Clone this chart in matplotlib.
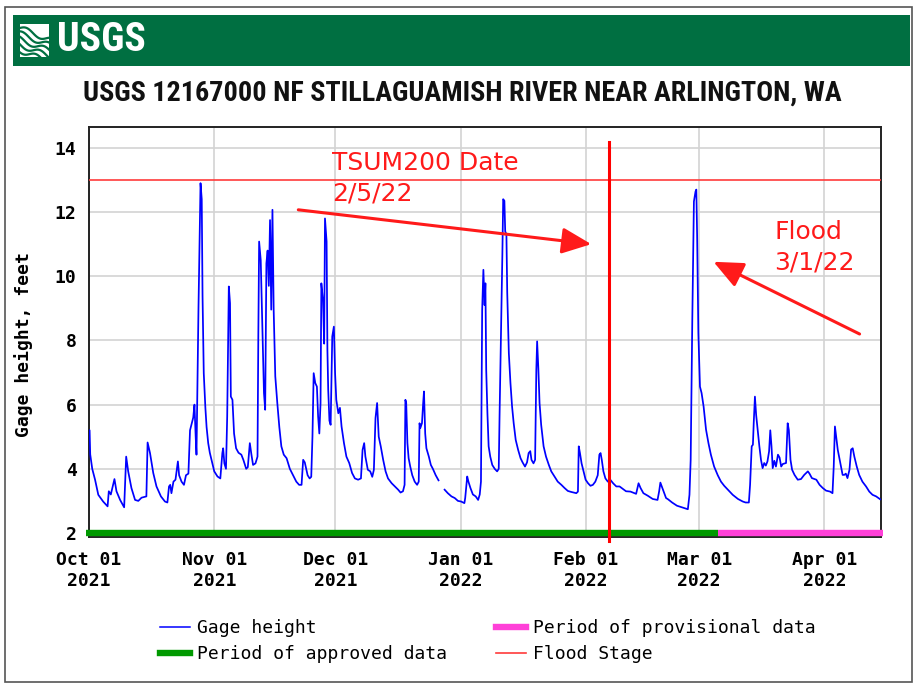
"""USGS gage height chart, NF Stillaguamish River near Arlington, Oct 2021 - Apr 2022."""
import os

import numpy as np
import matplotlib

matplotlib.use("Agg")
import matplotlib.pyplot as plt
import matplotlib.dates as mdates
from matplotlib import font_manager as fm
from matplotlib.lines import Line2D
from matplotlib.patches import Rectangle

OUT = "out.png"
W, H = 914, 685

START = np.datetime64("2021-10-01T00:00")
END_DAY = 196.0

# days since Oct 1 2021, gage height (ft)
DAYS = [
    0.0, 0.15, 0.3, 0.8, 1.5, 2.3, 3.5, 4.6, 4.9, 5.4, 6.3, 6.8, 7.7, 8.7, 9.2, 9.7,
    10.5, 11.4, 12.2, 13.0, 14.2, 14.5, 15.1, 15.9, 16.7, 17.8, 18.8, 19.4, 19.8, 20.1,
    20.4, 20.9, 21.4, 22.0, 22.3, 22.9, 23.5, 24.0, 24.6, 25.0, 25.4, 25.8, 26.1, 26.4,
    26.6, 27.1, 27.6, 27.9, 28.1, 28.4, 28.8, 29.1, 29.5, 29.9, 30.4, 31.0, 31.8, 32.5,
    33.0, 33.2, 33.5, 33.9, 34.2, 34.6, 34.9, 35.1, 35.5, 35.9, 36.4, 37.0, 37.7, 38.2,
    38.9, 39.3, 39.8, 40.2, 40.6, 41.2, 41.7, 41.9, 42.1, 42.5, 42.9, 43.3, 43.6, 43.9,
    44.2, 44.5, 44.8, 45.1, 45.4, 45.7, 46.1, 46.6, 47.1, 47.6, 48.2, 48.9, 49.7, 50.5,
    51.3, 52.0, 52.6, 53.0, 53.4, 54.1, 54.6, 55.0, 55.3, 55.6, 56.0, 56.4, 56.7, 57.0,
    57.3, 57.5, 57.9, 58.2, 58.4, 58.8, 59.0, 59.2, 59.5, 59.8, 60.2, 60.6, 60.9, 61.2,
    61.7, 62.1, 62.5, 63.1, 63.7, 64.4, 65.1, 65.8, 66.6, 67.3, 67.7, 68.1, 68.4, 69.0,
    69.6, 70.1, 70.5, 70.9, 71.3, 71.7, 72.2, 72.8, 73.4, 74.0, 74.9, 75.7, 76.5, 77.1,
    77.7, 78.1, 78.3, 78.5, 78.8, 79.1, 79.5, 80.0, 80.6, 81.2, 81.6, 81.8, 82.0, 82.4,
    82.7, 82.9, 83.2, 83.5, 84.1, 84.6, 85.1, 85.8, 86.5, 87.2, 88.0, 88.8, 89.7, 90.5,
    91.3, 92.1, 92.9, 93.1, 93.6, 93.9, 94.4, 95.0, 95.7, 96.3, 96.7, 97.0, 97.3, 97.6,
    97.9, 98.1, 98.3, 98.6, 98.9, 99.3, 99.8, 100.4, 101.0, 101.4, 101.6, 101.9, 102.3,
    102.5, 102.8, 103.0, 103.3, 103.5, 103.9, 104.3, 104.7, 105.1, 105.6, 106.2, 106.8,
    107.3, 107.9, 108.4, 108.8, 109.2, 109.5, 110.0, 110.4, 110.7, 110.9, 111.2, 111.5,
    111.9, 112.5, 113.1, 113.8, 114.4, 115.2, 116.0, 116.9, 117.7, 118.5, 119.3, 120.6,
    121.0, 121.2, 121.5, 121.9, 122.4, 122.9, 123.5, 124.1, 124.7, 125.3, 125.9, 126.3,
    126.6, 126.9, 127.3, 127.8, 128.4, 129.0, 129.7, 130.5, 131.3, 132.9, 134.0, 135.4,
    136.0, 136.5, 137.2, 138.3, 139.5, 140.7, 141.1, 141.4, 141.9, 142.8, 143.3, 144.3,
    145.5, 146.7, 148.2, 148.6, 148.9, 149.3, 149.7, 150.1, 150.3, 150.5, 150.8, 151.2,
    151.6, 152.1, 152.7, 153.3, 153.9, 154.7, 155.6, 156.4, 157.2, 158.1, 159.3, 160.6,
    161.8, 162.5, 163.3, 163.6, 164.0, 164.3, 164.5, 164.8, 165.1, 165.5, 165.9, 166.3,
    166.7, 167.1, 167.5, 167.9, 168.3, 168.6, 168.9, 169.2, 169.6, 170.0, 170.5, 170.9,
    171.3, 171.7, 172.5, 172.9, 173.2, 173.6, 174.0, 174.6, 175.4, 176.2, 177.0, 177.9,
    178.3, 178.9, 180.0, 180.8, 181.6, 182.4, 183.4, 184.0, 184.3, 184.6, 184.9, 185.3,
    185.7, 186.1, 186.5, 186.9, 187.3, 187.7, 188.2, 188.6, 189.0, 189.4, 190.0, 190.6,
    191.4, 192.3, 193.1, 193.9, 194.8, 195.8,
]
GAGE_FT = [
    5.2, 5.2, 4.45, 4.0, 3.66, 3.19, 2.98, 2.83, 3.3, 3.2, 3.68, 3.3, 3.03, 2.8, 4.38, 3.92,
    3.4, 3.03, 3.0, 3.1, 3.14, 4.82, 4.49, 3.87, 3.45, 3.14, 2.98, 2.95, 3.45, 3.5,
    3.24, 3.6, 3.66, 4.23, 3.8, 3.6, 3.5, 3.8, 3.85, 5.2, 5.4, 5.6, 6.0, 5.0,
    4.44, 9.06, 12.9, 12.4, 9.37, 6.98, 5.9, 5.3, 4.8, 4.5, 4.23, 3.92, 3.76, 3.7,
    4.49, 4.64, 4.17, 4.0, 5.63, 9.68, 9.16, 6.25, 6.15, 5.1, 4.64, 4.5, 4.44, 4.28,
    4.0, 4.05, 4.8, 4.44, 4.12, 4.17, 4.38, 8.12, 11.08, 10.5, 8.38, 6.36, 5.84, 10.4,
    10.8, 9.7, 11.75, 8.96, 12.07, 8.96, 6.88, 6.05, 5.3, 4.7, 4.44, 4.33, 4.0, 3.8,
    3.6, 3.5, 3.5, 4.28, 4.2, 3.8, 3.7, 3.75, 5.0, 6.98, 6.67, 6.56, 5.63, 5.1,
    6.05, 9.78, 9.26, 7.9, 11.8, 11.08, 7.7, 6.46, 5.5, 5.37, 8.12, 8.43, 6.98, 6.15,
    5.73, 5.9, 5.32, 4.8, 4.38, 4.18, 3.87, 3.7, 3.66, 3.7, 4.59, 4.8, 4.38, 3.97,
    3.92, 3.75, 3.97, 5.58, 6.05, 5.0, 4.7, 4.28, 3.92, 3.7, 3.55, 3.45, 3.35, 3.26,
    3.3, 3.5, 6.15, 6.05, 4.8, 4.33, 4.07, 3.8, 3.6, 3.5, 3.6, 5.42, 5.27, 5.42,
    6.05, 6.41, 5.1, 4.64, 4.38, 4.12, 4.0, 3.8, 3.64, np.nan, 3.35, 3.24, 3.14, 3.09,
    3.0, 2.98, 2.93, 3.09, 3.76, 3.6, 3.4, 3.2, 3.14, 3.03, 3.2, 3.6, 8.95, 10.2,
    9.1, 9.78, 7.08, 5.73, 4.7, 4.38, 4.12, 4.0, 3.92, 4.0, 5.63, 7.76, 10.7,
    12.4, 12.35, 11.4, 11.3, 9.5, 7.6, 6.67, 5.94, 5.42, 4.9, 4.59, 4.33,
    4.2, 4.07, 4.2, 4.49, 4.55, 4.28, 4.17, 4.28, 7.08, 7.97, 7.13, 6.05,
    5.37, 4.7, 4.38, 4.12, 3.92, 3.76, 3.6, 3.5, 3.4, 3.31, 3.28, 3.24,
    3.29, 4.7, 4.49, 4.17, 3.92, 3.66, 3.55, 3.47, 3.5, 3.6, 3.8, 4.44,
    4.49, 4.28, 3.92, 3.7, 3.6, 3.66, 3.55, 3.45, 3.45, 3.3, 3.29, 3.22,
    3.55, 3.4, 3.24, 3.16, 3.06, 3.03, 3.3, 3.57, 3.4, 3.09, 3.05, 2.95,
    2.85, 2.8, 2.74, 3.19, 4.28, 8.64, 12.33, 12.64, 12.7, 11.24, 8.23, 6.56,
    6.36, 5.94, 5.22, 4.8, 4.44, 4.07, 3.8, 3.6, 3.47, 3.35, 3.19, 3.06,
    2.98, 2.95, 2.95, 3.5, 4.7, 4.75, 5.42, 6.25, 5.68, 5.2, 4.7, 4.28,
    4.02, 4.18, 4.1, 4.23, 4.54, 5.2, 4.7, 4.02, 4.25, 4.07, 4.44, 4.35,
    4.07, 4.15, 4.18, 5.42, 5.2, 4.28, 3.97, 3.81, 3.66, 3.68, 3.81, 3.92,
    3.85, 3.71, 3.66, 3.5, 3.4, 3.32, 3.29, 3.24, 4.07, 5.32, 5.0, 4.59,
    4.33, 4.07, 3.81, 3.81, 3.85, 3.71, 3.97, 4.6, 4.64, 4.38, 4.07, 3.81,
    3.6, 3.45, 3.29, 3.19, 3.14, 3.05,
]

FLOOD_STAGE = 13.0
TSUM_DAY = 128.7          # hand-drawn TSUM200 marker
PROVISIONAL_FROM = 155.6  # approved -> provisional switch
Y_TICKS = [2, 4, 6, 8, 10, 12, 14]

TITLE = "USGS 12167000 NF STILLAGUAMISH RIVER NEAR ARLINGTON, WA"
LEGEND_LABELS = ["Gage height", "Period of approved data", "Period of provisional data", "Flood Stage"]

BLUE = "#0000ff"
RED = "#ff1a1a"
FLOOD_RED = "#ff3b3b"
GREEN = "#009900"
PINK = "#ff40d8"
HEADER = "#006f41"
MONO = ["DejaVu Sans Mono"]


def narrow_font():
    """First condensed sans we can find; plain DejaVu Sans otherwise."""
    cands = [("Liberation Sans Narrow", "normal"), ("Roboto Condensed", "normal"),
             ("Open Sans Condensed", "normal"), ("Noto Sans Condensed", "normal"),
             ("Noto Sans", "condensed"), ("DejaVu Sans", "condensed"),
             ("Roboto", "condensed"), ("Open Sans", "condensed")]
    for fam, st in cands:
        try:
            path = fm.findfont(fm.FontProperties(family=fam, stretch=st, weight="bold"),
                               fallback_to_default=False)
        except ValueError:
            continue
        name = os.path.basename(path).lower()
        if "condensed" in name or "narrow" in name:
            return fam, st
    return "DejaVu Sans", "normal"


def fit_width(fig, txt, width_px):
    w = txt.get_window_extent(fig.canvas.get_renderer()).width
    txt.set_fontsize(txt.get_fontsize() * width_px / w)


def to_dates(days):
    return START + (np.asarray(days, dtype=float) * 86400).astype("timedelta64[s]")


def draw_header(fig):
    fam, st = narrow_font()
    fig.patches.append(Rectangle((5 / W, 1 - 682 / H), 907 / W, 675 / H, transform=fig.transFigure,
                                 fill=False, ec="#555555", lw=1.2))
    fig.patches.append(Rectangle((13 / W, 1 - 66 / H), 897 / W, 51 / H, transform=fig.transFigure,
                                 fc=HEADER, ec="none"))
    # small wave logo
    lax = fig.add_axes([20 / W, 1 - 57 / H, 29 / W, 33 / H])
    lax.set_zorder(3)
    lax.set_xlim(0, 1)
    lax.set_ylim(0, 1)
    lax.axis("off")
    lax.add_patch(Rectangle((0, 0), 1, 1, fc="white", ec="none"))
    t = np.linspace(0, 1, 60)
    for k in range(5):
        lax.plot(t, 0.88 - 0.17 * k - 0.35 * t + 0.08 * np.sin(7 * t + k), color=HEADER, lw=1.6)
    logo = fig.text(57 / W, 1 - 40 / H, "USGS", color="white", fontsize=30, fontweight="bold",
                    family=fam, fontstretch=st, ha="left", va="center")
    fit_width(fig, logo, 89)
    title = fig.text(462 / W, 1 - 93 / H, TITLE, fontsize=20, fontweight="bold", family=fam,
                     fontstretch=st, ha="center", va="center", color="#111111")
    fit_width(fig, title, 760)


def main():
    fig = plt.figure(figsize=(W / 100, H / 100), dpi=100)
    draw_header(fig)

    ax = fig.add_axes([89 / W, 1 - 537 / H, 792 / W, 410 / H])
    x = to_dates(DAYS)
    ax.plot(x, GAGE_FT, color=BLUE, lw=1.25, zorder=3)
    ax.axhline(FLOOD_STAGE, color=FLOOD_RED, lw=1.2, zorder=3)

    # approved / provisional bars along the bottom
    ax.plot(to_dates([-0.8, PROVISIONAL_FROM]), [2, 2], color=GREEN, lw=4.6,
            solid_capstyle="butt", clip_on=False, zorder=4)
    ax.plot(to_dates([PROVISIONAL_FROM, END_DAY + 0.6]), [2, 2], color=PINK, lw=4.6,
            solid_capstyle="butt", clip_on=False, zorder=4)

    # TSUM200 marker line and annotations
    ax.plot(to_dates([TSUM_DAY, TSUM_DAY]), [14.19, 1.75], color="#ff0000", lw=2.2,
            clip_on=False, zorder=5)
    ax.text(to_dates([60.1])[0], 13.9, "TSUM200 Date\n2/5/22", color=RED, fontsize=18,
            ha="left", va="top", linespacing=1.32, zorder=6)
    ax.text(to_dates([169.6])[0], 11.75, "Flood\n3/1/22", color=RED, fontsize=18,
            ha="left", va="top", linespacing=1.32, zorder=6)
    arrow = dict(arrowstyle="-|>,head_length=1.8,head_width=0.8", color=RED, lw=2.2,
                 shrinkA=0, shrinkB=0)
    ax.annotate("", xy=(to_dates([124.3])[0], 11.0), xytext=(to_dates([51.8])[0], 12.07),
                arrowprops=arrow, zorder=6)
    ax.annotate("", xy=(to_dates([154.55])[0], 10.45), xytext=(to_dates([190.7])[0], 8.2),
                arrowprops=arrow, annotation_clip=False, zorder=6)

    ax.set_xlim(to_dates([0, END_DAY]))
    ax.set_ylim(1.875, 14.65)
    ax.set_yticks(Y_TICKS)
    ax.xaxis.set_major_locator(mdates.MonthLocator())
    ax.xaxis.set_major_formatter(mdates.DateFormatter("%b %d\n%Y"))
    ax.tick_params(length=0, labelsize=13)
    ax.tick_params(axis="y", pad=9)
    ax.tick_params(axis="x", pad=10)
    for lab in ax.get_xticklabels() + ax.get_yticklabels():
        lab.set_family(MONO)
        lab.set_fontweight("bold")
    ax.set_ylabel("Gage height, feet", fontsize=13, fontweight="bold", family=MONO)
    ax.yaxis.set_label_coords(-56 / 792, 0.47)
    ax.grid(True, color="#d3d3d3", lw=1.2)
    ax.set_axisbelow(True)
    for sp in ax.spines.values():
        sp.set_color("#222222")
        sp.set_linewidth(1.4)

    handles = [
        Line2D([], [], color=BLUE, lw=1.1),
        Line2D([], [], color=GREEN, lw=4.6),
        Line2D([], [], color=PINK, lw=4.6),
        Line2D([], [], color=FLOOD_RED, lw=1.2),
    ]
    fig.legend(handles, LEGEND_LABELS, ncol=2, loc="upper left",
               bbox_to_anchor=(160 / W, 1 - 619 / H), frameon=False, borderpad=0,
               borderaxespad=0, handlelength=1.66, handletextpad=0.39, columnspacing=2.72,
               labelspacing=0.47, prop={"family": MONO, "size": 13})

    fig.savefig(OUT, dpi=100)


if __name__ == "__main__":
    main()
